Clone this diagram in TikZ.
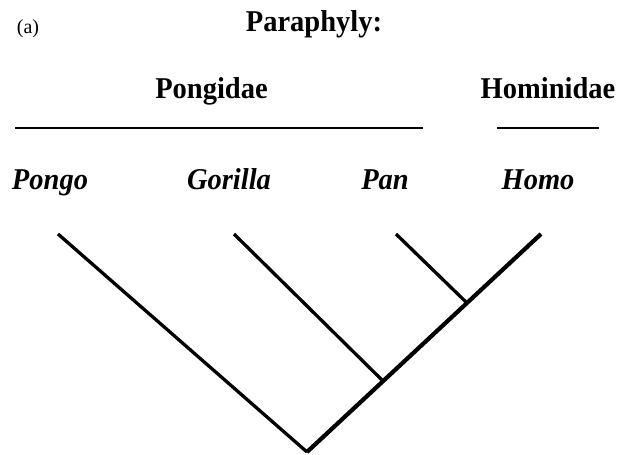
\documentclass[tikz,border=0pt]{standalone}
\usepackage{fontspec}
\setmainfont{Liberation Serif}
\begin{document}
\begin{tikzpicture}[x=1bp,y=-1bp,
  lbl/.style={inner sep=0pt,outer sep=0pt,anchor=base},
  head/.style={lbl,yscale=1.06,font=\fontsize{28.5bp}{30bp}\selectfont\bfseries},
  taxon/.style={lbl,yscale=1.06,font=\fontsize{28.5bp}{30bp}\selectfont\bfseries\itshape},
  grp/.style={line width=2.2bp},
  branch/.style={line width=3.3bp},
  stem/.style={line width=4.2bp}]
\useasboundingbox (0,0) rectangle (618,455);
% labels
\node[lbl,font=\fontsize{20bp}{22bp}\selectfont] (a) at (28,34) {(a)};
\node[head] (title) at (314,32) {Paraphyly:};
\node[head] (pongidae) at (211.5,99) {Pongidae};
\node[head] (hominidae) at (548,99) {Hominidae};
\node[taxon] (pongo) at (50,190) {Pongo};
\node[taxon] (gorilla) at (229,190) {Gorilla};
\node[taxon] (pan) at (385,190) {Pan};
\node[taxon] (homo) at (538,190) {Homo};
% group bars
\coordinate (pl) at (15,128);
\coordinate (pr) at (423,128);
\coordinate (hl) at (497,128);
\coordinate (hr) at (599,128);
\draw[grp] (pl) -- (pr);
\draw[grp] (hl) -- (hr);
% tree
\coordinate (tpongo) at (58,234);
\coordinate (tgorilla) at (234,234);
\coordinate (tpan) at (396,234);
\coordinate (thomo) at (541,234);
\coordinate (root) at (307,452);
\coordinate (jgor) at (383,381);
\coordinate (jpan) at (467,303);
\draw[branch] (tpongo) -- (root);
\draw[stem] (thomo) -- (root);
\draw[branch] (tgorilla) -- (jgor);
\draw[branch] (tpan) -- (jpan);
\end{tikzpicture}
\end{document}
